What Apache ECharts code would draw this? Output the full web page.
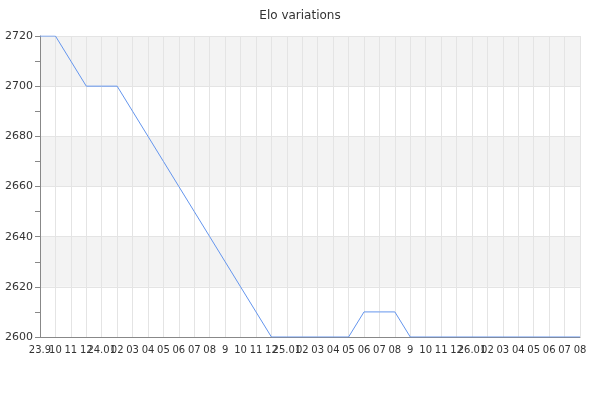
<!DOCTYPE html>
<html>
<head>
<meta charset="utf-8">
<script src="https://cdn.jsdelivr.net/npm/echarts@6/dist/echarts.min.js"></script>
<style>
  html, body { margin: 0; padding: 0; background: #fff; }
  #chart { width: 600px; height: 400px; }
</style>
</head>
<body>
<div id="chart"></div>
<script>
// months Sep 2023 .. Aug 2026
const months = [
  '2023-09', '2023-10', '2023-11', '2023-12',
  '2024-01', '2024-02', '2024-03', '2024-04', '2024-05', '2024-06',
  '2024-07', '2024-08', '2024-09', '2024-10', '2024-11', '2024-12',
  '2025-01', '2025-02', '2025-03', '2025-04', '2025-05', '2025-06',
  '2025-07', '2025-08', '2025-09', '2025-10', '2025-11', '2025-12',
  '2026-01', '2026-02', '2026-03', '2026-04', '2026-05', '2026-06',
  '2026-07', '2026-08'
];
const tickLabels = [
  '23.9', '10', '11', '12',
  '24.01', '02', '03', '04', '05', '06', '07', '08', '9', '10', '11', '12',
  '25.01', '02', '03', '04', '05', '06', '07', '08', '9', '10', '11', '12',
  '26.01', '02', '03', '04', '05', '06', '07', '08'
];
const elo = [
  2720, 2720, 2710, 2700, 2700, 2700, 2690, 2680, 2670, 2660,
  2650, 2640, 2630, 2620, 2610, 2600, 2600, 2600, 2600, 2600,
  2600, 2610, 2610, 2610, 2600, 2600, 2600, 2600, 2600, 2600,
  2600, 2600, 2600, 2600, 2600, 2600
];

const chart = echarts.init(document.getElementById('chart'));
chart.setOption({
  animation: false,
  textStyle: { fontFamily: 'DejaVu Sans' },
  title: {
    text: 'Elo variations',
    left: 'center',
    top: 5,
    textStyle: { fontSize: 12, fontWeight: 'normal', color: '#333', fontFamily: 'DejaVu Sans' }
  },
  grid: { left: 40, right: 20, top: 36, bottom: 63 },
  xAxis: {
    type: 'category',
    data: months,
    boundaryGap: false,
    axisLine: { lineStyle: { color: '#888', width: 1 } },
    axisTick: { show: false },
    axisLabel: {
      interval: 0,
      fontSize: 10,
      color: '#333',
      margin: 8,
      formatter: (v, i) => tickLabels[i]
    },
    splitLine: { show: true, interval: 0, lineStyle: { color: '#e4e4e4' } }
  },
  yAxis: {
    type: 'value',
    min: 2600,
    max: 2720,
    interval: 20,
    axisLine: { show: true, lineStyle: { color: '#888', width: 1 } },
    axisTick: { show: true, length: 5, lineStyle: { color: '#888' } },
    minorTick: { show: true, splitNumber: 2, length: 5, lineStyle: { color: '#888' } },
    axisLabel: { fontSize: 11, color: '#333', margin: 7, formatter: v => String(v) },
    splitLine: { show: true, lineStyle: { color: '#e4e4e4' } },
    splitArea: { show: true, areaStyle: { color: ['#ffffff', '#f3f3f3'] } }
  },
  series: [
    {
      type: 'line',
      data: elo,
      symbol: 'none',
      lineStyle: { color: '#6495ed', width: 1 }
    }
  ]
});
</script>
</body>
</html>
